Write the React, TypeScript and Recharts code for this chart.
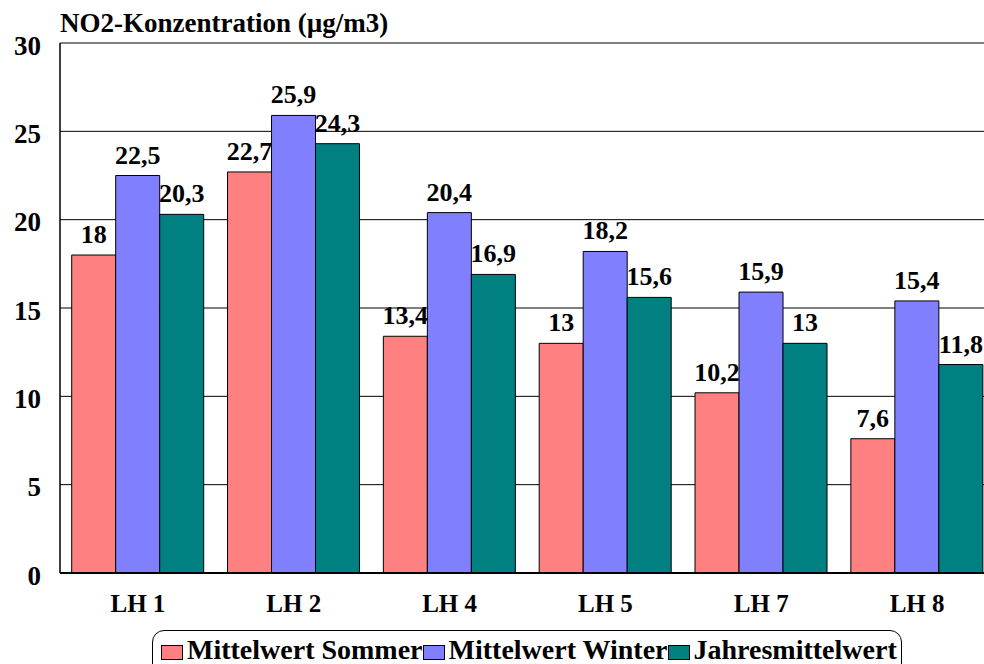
import React from 'react';
import { BarChart, Bar, XAxis, YAxis, CartesianGrid, Legend, LabelList } from 'recharts';

const categories = ['LH 1', 'LH 2', 'LH 4', 'LH 5', 'LH 7', 'LH 8'];
const sommer = [18, 22.7, 13.4, 13, 10.2, 7.6];
const winter = [22.5, 25.9, 20.4, 18.2, 15.9, 15.4];
const jahres = [20.3, 24.3, 16.9, 15.6, 13, 11.8];
const yTicks = [0, 5, 10, 15, 20, 25, 30];
const seriesNames = ['Mittelwert Sommer', 'Mittelwert Winter', 'Jahresmittelwert'];
const seriesColors = ['#FF8080', '#8080FF', '#008080'];
const titleText = 'NO2-Konzentration (µg/m3)';

const data = categories.map((c, i) => ({ name: c, s: sommer[i], w: winter[i], j: jahres[i] }));

const FONT = '"Liberation Serif", "Times New Roman", serif';
const fmt = (v: any) => String(v).replace('.', ',');

const LegendBox = () => {
  return (
    <div
      style={{
        width: 750,
        height: 50,
        border: '1px solid #000',
        borderRadius: 12,
        boxSizing: 'border-box',
        padding: '6px 0 0 8px',
        whiteSpace: 'nowrap',
        fontFamily: FONT,
        fontWeight: 'bold',
        fontSize: 28,
        lineHeight: '26px',
        color: '#000',
        overflow: 'visible',
        display: 'flex',
        alignItems: 'flex-start',
      }}
    >
      {seriesNames.map((n, i) => (
        <span key={i} style={{ display: 'inline-flex', alignItems: 'center' }}>
          <span
            style={{
              display: 'inline-block',
              width: 22,
              height: 15,
              background: seriesColors[i],
              border: '1px solid #000',
              boxSizing: 'border-box',
              marginRight: 4,
              marginTop: 4,
            }}
          />
          <span>{n}</span>
        </span>
      ))}
    </div>
  );
};

export default function App() {
  return (
    <div style={{ position: 'absolute', left: 0, top: 0, width: 984, height: 664, overflow: 'hidden', background: '#fff' }}>
      <div
        style={{
          position: 'absolute',
          left: 60,
          top: 8,
          fontFamily: FONT,
          fontWeight: 'bold',
          fontSize: 27,
          lineHeight: '30px',
          color: '#000',
          whiteSpace: 'nowrap',
        }}
      >
        {titleText}
      </div>
      <BarChart
        width={1008}
        height={664}
        data={data}
        margin={{ top: 43, right: 13, bottom: 61, left: 0 }}
        barCategoryGap="7.5%"
        barGap={0}
      >
        <CartesianGrid vertical={false} stroke="#000" strokeWidth={1} />
        <XAxis
          dataKey="name"
          axisLine={{ stroke: '#000', strokeWidth: 2 }}
          tickLine={false}
          tickMargin={15}
          tick={{ fill: '#000', fontFamily: FONT, fontWeight: 'bold', fontSize: 25 }}
          interval={0}
        />
        <YAxis
          width={60}
          domain={[0, 30]}
          ticks={yTicks}
          axisLine={{ stroke: '#000', strokeWidth: 1.5 }}
          tickLine={false}
          tickMargin={13}
          tick={{ fill: '#000', fontFamily: FONT, fontWeight: 'bold', fontSize: 27, dy: 2 }}
          interval={0}
        />
        <Legend
          layout="horizontal"
          verticalAlign="middle"
          align="center"
          wrapperStyle={{ left: 152, top: 630, width: 750, height: 50 }}
          content={<LegendBox />}
        />
        <Bar dataKey="s" name={seriesNames[0]} fill={seriesColors[0]} stroke="#000" strokeWidth={1} isAnimationActive={false}>
          <LabelList dataKey="s" position="top" offset={12} formatter={fmt} style={{ fill: '#000', fontFamily: FONT, fontWeight: 'bold', fontSize: 26 }} />
        </Bar>
        <Bar dataKey="w" name={seriesNames[1]} fill={seriesColors[1]} stroke="#000" strokeWidth={1} isAnimationActive={false}>
          <LabelList dataKey="w" position="top" offset={12} formatter={fmt} style={{ fill: '#000', fontFamily: FONT, fontWeight: 'bold', fontSize: 26 }} />
        </Bar>
        <Bar dataKey="j" name={seriesNames[2]} fill={seriesColors[2]} stroke="#000" strokeWidth={1} isAnimationActive={false}>
          <LabelList dataKey="j" position="top" offset={12} formatter={fmt} style={{ fill: '#000', fontFamily: FONT, fontWeight: 'bold', fontSize: 26 }} />
        </Bar>
      </BarChart>
    </div>
  );
}
